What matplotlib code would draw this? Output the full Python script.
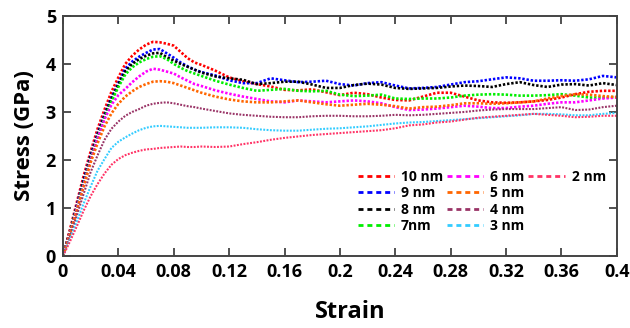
import matplotlib
matplotlib.use("Agg")
import matplotlib.pyplot as plt
from matplotlib.lines import Line2D

plt.rcParams['font.family'] = ['Open Sans', 'DejaVu Sans']
plt.rcParams['font.weight'] = 'bold'

strain = [0, 0.005, 0.01, 0.015, 0.02, 0.025, 0.03, 0.035, 0.04, 0.045, 0.05, 0.055,
          0.06, 0.065, 0.07, 0.075, 0.08, 0.085, 0.09, 0.095, 0.10, 0.11, 0.12, 0.13,
          0.14, 0.15, 0.16, 0.17, 0.18, 0.19, 0.20, 0.21, 0.22, 0.23, 0.24, 0.25, 0.26,
          0.27, 0.28, 0.29, 0.30, 0.31, 0.32, 0.33, 0.34, 0.35, 0.36, 0.37, 0.38, 0.39, 0.40]

s10 = [0, 0.55, 1.12, 1.68, 2.18, 2.65, 3.05, 3.42, 3.72, 4.0, 4.17, 4.3, 4.4, 4.46, 4.45,
       4.42, 4.38, 4.25, 4.12, 4.03, 3.98, 3.86, 3.72, 3.64, 3.58, 3.53, 3.46, 3.45, 3.47,
       3.41, 3.35, 3.4, 3.37, 3.3, 3.25, 3.24, 3.32, 3.4, 3.4, 3.32, 3.24, 3.2, 3.19, 3.2,
       3.22, 3.25, 3.3, 3.37, 3.42, 3.44, 3.44]
s9 = [0, 0.5, 1.05, 1.6, 2.1, 2.55, 2.95, 3.3, 3.6, 3.9, 4.05, 4.15, 4.23, 4.3, 4.31, 4.22,
      4.13, 4.03, 3.95, 3.88, 3.83, 3.76, 3.66, 3.6, 3.6, 3.7, 3.66, 3.62, 3.63, 3.65, 3.58,
      3.55, 3.6, 3.62, 3.55, 3.49, 3.5, 3.52, 3.57, 3.62, 3.64, 3.68, 3.72, 3.7, 3.65, 3.65,
      3.66, 3.65, 3.68, 3.75, 3.72]
s8 = [0, 0.5, 1.02, 1.57, 2.07, 2.52, 2.92, 3.27, 3.57, 3.85, 4.0, 4.1, 4.17, 4.22, 4.23,
      4.14, 4.07, 4.0, 3.94, 3.88, 3.82, 3.74, 3.7, 3.67, 3.58, 3.6, 3.63, 3.63, 3.57, 3.5,
      3.5, 3.56, 3.59, 3.57, 3.5, 3.48, 3.49, 3.5, 3.53, 3.55, 3.54, 3.52, 3.58, 3.62, 3.56,
      3.52, 3.57, 3.58, 3.55, 3.6, 3.56]
s7 = [0, 0.48, 1.0, 1.53, 2.02, 2.47, 2.87, 3.22, 3.52, 3.78, 3.93, 4.03, 4.1, 4.15, 4.16,
      4.1, 4.0, 3.92, 3.85, 3.8, 3.75, 3.65, 3.57, 3.5, 3.44, 3.46, 3.48, 3.44, 3.43, 3.44,
      3.36, 3.33, 3.34, 3.36, 3.28, 3.27, 3.28, 3.28, 3.3, 3.34, 3.36, 3.37, 3.36, 3.34, 3.34,
      3.35, 3.37, 3.34, 3.3, 3.3, 3.31]
s6 = [0, 0.47, 0.98, 1.5, 2.0, 2.45, 2.85, 3.15, 3.35, 3.48, 3.62, 3.74, 3.84, 3.9, 3.88,
      3.84, 3.8, 3.72, 3.65, 3.58, 3.54, 3.45, 3.38, 3.32, 3.27, 3.22, 3.2, 3.24, 3.22, 3.2,
      3.22, 3.24, 3.22, 3.18, 3.1, 3.04, 3.05, 3.07, 3.1, 3.13, 3.11, 3.08, 3.08, 3.11, 3.13,
      3.17, 3.2, 3.2, 3.24, 3.28, 3.3]
s5 = [0, 0.45, 0.95, 1.45, 1.95, 2.35, 2.7, 2.97, 3.17, 3.32, 3.43, 3.52, 3.58, 3.63, 3.64,
      3.63, 3.6, 3.55, 3.5, 3.45, 3.4, 3.32, 3.26, 3.22, 3.2, 3.2, 3.22, 3.24, 3.2, 3.16,
      3.13, 3.15, 3.17, 3.15, 3.12, 3.07, 3.1, 3.11, 3.14, 3.18, 3.18, 3.17, 3.18, 3.2, 3.22,
      3.28, 3.33, 3.37, 3.36, 3.33, 3.31]
s4 = [0, 0.4, 0.85, 1.3, 1.75, 2.1, 2.42, 2.65, 2.8, 2.92, 3.0, 3.06, 3.13, 3.17, 3.19,
      3.2, 3.18, 3.15, 3.12, 3.1, 3.07, 3.02, 2.97, 2.94, 2.92, 2.9, 2.89, 2.89, 2.91, 2.92,
      2.92, 2.91, 2.91, 2.92, 2.94, 2.93, 2.94, 2.96, 2.98, 3.0, 3.03, 3.05, 3.06, 3.06, 3.06,
      3.08, 3.1, 3.04, 3.05, 3.1, 3.13]
s3 = [0, 0.35, 0.72, 1.1, 1.45, 1.78, 2.02, 2.25, 2.38, 2.47, 2.55, 2.62, 2.67, 2.7, 2.71,
      2.7, 2.69, 2.68, 2.67, 2.67, 2.67, 2.68, 2.68, 2.67, 2.64, 2.62, 2.61, 2.61, 2.63, 2.65,
      2.66, 2.68, 2.7, 2.73, 2.76, 2.78, 2.79, 2.81, 2.83, 2.85, 2.87, 2.89, 2.91, 2.93, 2.96,
      2.96, 2.95, 2.93, 2.93, 2.96, 2.98]
s2 = [0, 0.3, 0.62, 0.95, 1.25, 1.5, 1.72, 1.9, 2.02, 2.1, 2.15, 2.19, 2.22, 2.23, 2.25,
      2.26, 2.27, 2.28, 2.27, 2.27, 2.28, 2.27, 2.28, 2.33, 2.37, 2.42, 2.46, 2.49, 2.52, 2.54,
      2.56, 2.58, 2.6, 2.62, 2.66, 2.72, 2.74, 2.78, 2.8, 2.84, 2.88, 2.9, 2.92, 2.94, 2.96,
      2.94, 2.92, 2.89, 2.9, 2.92, 2.92]

labels = ['10 nm', '9 nm', '8 nm', '7nm', '6 nm', '5 nm', '4 nm', '3 nm', '2 nm']
series = [s10, s9, s8, s7, s6, s5, s4, s3, s2]
colors = ['#ff0000', '#0000ff', '#000000', '#00ee00', '#ff00ff', '#ff6600',
          '#993366', '#33ccff', '#ff3366']
widths = [1.9, 1.9, 1.9, 1.9, 1.9, 1.9, 1.5, 1.5, 1.5]

xticks = [0, 0.04, 0.08, 0.12, 0.16, 0.2, 0.24, 0.28, 0.32, 0.36, 0.4]
xticklabels = ['0', '0.04', '0.08', '0.12', '0.16', '0.2', '0.24', '0.28', '0.32', '0.36', '0.4']
yticks = [0, 1, 2, 3, 4, 5]

fig = plt.figure(figsize=(6.3, 3.28), dpi=100)
ax = fig.add_axes([0.1, 0.2195, 0.879, 0.732])

for y, c, w in zip(series, colors, widths):
    ax.plot(strain, y, color=c, lw=w, linestyle=(0, (0.9, 0.7)))

ax.set_xlim(0, 0.4)
ax.set_ylim(0, 5)
ax.set_xticks(xticks)
ax.set_xticklabels(xticklabels)
ax.set_yticks(yticks)
ax.tick_params(direction='in', top=True, right=True, length=6, width=1.2,
               labelsize=13, pad=5, colors='#333333', labelcolor='black')
for lab in ax.get_xticklabels() + ax.get_yticklabels():
    lab.set_fontweight('bold')
for sp in ax.spines.values():
    sp.set_linewidth(1.4)
    sp.set_color('#444444')

ax.set_xlabel('Strain', fontsize=17, fontweight='bold')
ax.xaxis.set_label_coords(0.518, -0.185)
ax.set_ylabel('Stress (GPa)', fontsize=16, fontweight='bold', labelpad=8)

handles = [Line2D([], [], color=c, lw=2.0, linestyle=(0, (1.8, 1.4))) for c in colors]
blank = Line2D([], [], alpha=0)
handles_all = handles[:8] + [handles[8], blank, blank, blank]
labels_all = labels[:8] + [labels[8], '', '', '']
leg = ax.legend(handles_all, labels_all, ncol=3, loc='lower right',
                bbox_to_anchor=(0.995, 0.06), frameon=False,
                prop={'weight': 'bold', 'size': 10}, handlelength=2.6,
                handletextpad=0.5, columnspacing=0.3, labelspacing=0.18,
                borderaxespad=0.2)

fig.savefig('out.png', dpi=100)
